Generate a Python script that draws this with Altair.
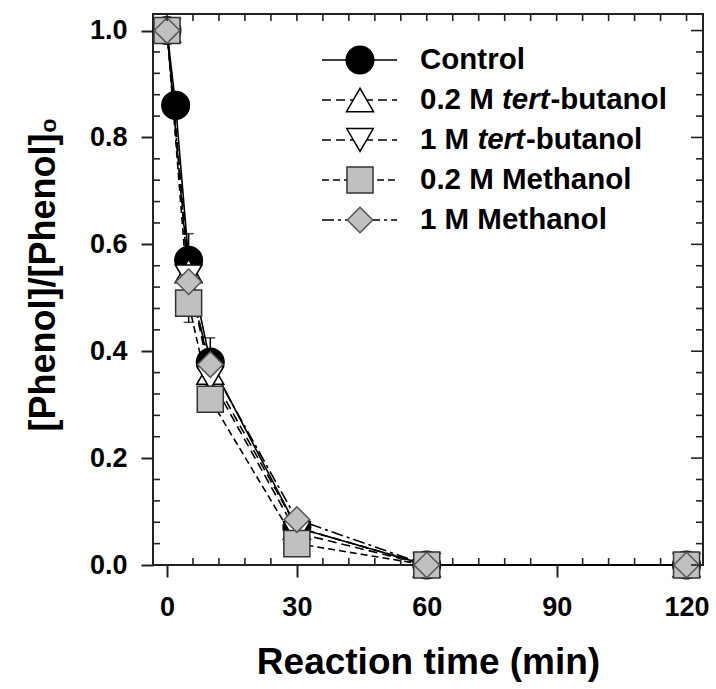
import altair as alt
import pandas as pd

# ---------------- data ----------------
times = [0, 2, 5, 10, 30, 60, 120]
series_names = ["Control", "0.2 M tert-butanol", "1 M tert-butanol",
                "0.2 M Methanol", "1 M Methanol"]
control = [1.00, 0.86, 0.57, 0.38, 0.07, 0.0, 0.0]
tbut_02 = [1.00, None, 0.55, 0.36, 0.07, 0.0, 0.0]
tbut_1 = [1.00, None, 0.54, 0.35, 0.06, 0.0, 0.0]
meoh_02 = [1.00, None, 0.49, 0.31, 0.04, 0.0, 0.0]
meoh_1 = [1.00, None, 0.53, 0.375, 0.085, 0.0, 0.0]
control_err = [0.0, 0.01, 0.05, 0.045, 0.01, 0.0, 0.0]
tbut_02_err = [0.0, None, 0.02, 0.02, 0.01, 0.0, 0.0]
tbut_1_err = [0.0, None, 0.02, 0.02, 0.01, 0.0, 0.0]
meoh_02_err = [0.0, None, 0.036, 0.02, 0.01, 0.0, 0.0]
meoh_1_err = [0.0, None, 0.02, 0.02, 0.01, 0.0, 0.0]

x_major = [0, 30, 60, 90, 120]
y_major = [0.0, 0.2, 0.4, 0.6, 0.8, 1.0]
x_all_ticks = list(range(0, 121, 6))
x_minor = [v for v in x_all_ticks if v not in x_major]
y_minor = [round(i * 0.04, 2) for i in range(0, 26) if i % 5 != 0]

values = [control, tbut_02, tbut_1, meoh_02, meoh_1]
errors = [control_err, tbut_02_err, tbut_1_err, meoh_02_err, meoh_1_err]

rows = []
for k, (name, vals, errs) in enumerate(zip(series_names, values, errors)):
    for t, v, e in zip(times, vals, errs):
        if v is None:
            continue
        rows.append({"t": t, "v": v, "lo": v - e, "hi": v + e,
                     "series": name, "k": k})
df = pd.DataFrame(rows)

legend_df = pd.DataFrame({"series": series_names,
                          "row": list(range(len(series_names))),
                          "pre": ["Control", "0.2 M ", "1 M ",
                                  "0.2 M Methanol", "1 M Methanol"]})

# ---------------- styles ----------------
FONT = "Liberation Sans"
shapes = ["circle", "triangle-up", "triangle-down", "square", "diamond"]
fills = ["#000000", "#ffffff", "#ffffff", "#c0c0c0", "#c0c0c0"]
strokes = ["#000000", "#000000", "#000000", "#333333", "#555555"]
sizes = [760, 650, 650, 600, 1100]
dashes = [[1, 0], [9, 5], [9, 5], [7, 4], [12, 4, 3, 4]]

sdom = series_names
shape_s = alt.Scale(domain=sdom, range=shapes)
fill_s = alt.Scale(domain=sdom, range=fills)
stroke_s = alt.Scale(domain=sdom, range=strokes)
size_s = alt.Scale(domain=sdom, range=sizes)
dash_s = alt.Scale(domain=sdom, range=dashes)

W, H = 550, 551
XDOM = [-3.23, 123.8]
YDOM = [0.0, 1.031]
TICK_COL = "#222"


def xs():
    return alt.Scale(domain=XDOM, nice=False, zero=False)


def ys():
    return alt.Scale(domain=YDOM, nice=False, zero=False)


ax_bottom = alt.Axis(orient="bottom", values=x_major, tickSize=12, tickWidth=2,
                     tickColor=TICK_COL, domain=False, grid=False,
                     labelFont=FONT, labelFontSize=27, labelFontWeight="bold",
                     labelColor="black", labelPadding=17,
                     title="Reaction time (min)", titleFont=FONT,
                     titleFontSize=37, titleFontWeight="bold", titleColor="black",
                     titleBaseline="alphabetic", titleY=108)
ax_left = alt.Axis(orient="left", values=y_major, format=".1f", tickSize=12,
                   tickWidth=2, tickColor=TICK_COL, domain=False, grid=False,
                   labelFont=FONT, labelFontSize=27, labelFontWeight="bold",
                   labelColor="black", labelPadding=14,
                   title="[Phenol]/[Phenol]₀", titleFont=FONT, titleFontSize=36,
                   titleFontWeight="bold", titleColor="black", titleAngle=-90,
                   titleBaseline="middle", titleX=-110, titleY=260)

base = alt.Chart(df)

lines = base.mark_line(color="black", strokeWidth=1.6).encode(
    x=alt.X("t:Q", scale=xs(), axis=ax_bottom),
    y=alt.Y("v:Q", scale=ys(), axis=ax_left),
    detail="series:N",
    strokeDash=alt.StrokeDash("series:N", scale=dash_s, legend=None),
    order="t:Q",
)

err_rules = base.mark_rule(color="black", strokeWidth=1.5).encode(
    x=alt.X("t:Q", scale=xs(), axis=None),
    y=alt.Y("lo:Q", scale=ys(), axis=None),
    y2="hi:Q",
)
err_caps_hi = base.mark_tick(orient="horizontal", size=10, thickness=1.5,
                             color="black").encode(
    x=alt.X("t:Q", scale=xs(), axis=None),
    y=alt.Y("hi:Q", scale=ys(), axis=None),
)
err_caps_lo = base.mark_tick(orient="horizontal", size=10, thickness=1.5,
                             color="black").encode(
    x=alt.X("t:Q", scale=xs(), axis=None),
    y=alt.Y("lo:Q", scale=ys(), axis=None),
)

points = base.mark_point(filled=True, opacity=1, fillOpacity=1,
                         strokeWidth=1.5).encode(
    x=alt.X("t:Q", scale=xs(), axis=None),
    y=alt.Y("v:Q", scale=ys(), axis=None),
    shape=alt.Shape("series:N", scale=shape_s, legend=None),
    fill=alt.Fill("series:N", scale=fill_s, legend=None),
    stroke=alt.Stroke("series:N", scale=stroke_s, legend=None),
    size=alt.Size("series:N", scale=size_s, legend=None),
    order="k:Q",
)

# ---------------- inner (minor / mirrored) ticks ----------------
xt_minor_df = pd.DataFrame({"v": x_minor})
xt_all_df = pd.DataFrame({"v": x_all_ticks})
yt_minor_df = pd.DataFrame({"v": y_minor})
yt_major_df = pd.DataFrame({"v": y_major})


def vtick(data, y0, y1):
    return alt.Chart(data).mark_rule(color=TICK_COL, strokeWidth=1.6).encode(
        x=alt.X("v:Q", scale=xs(), axis=None),
        y=alt.value(y0), y2=alt.value(y1))


def htick(data, x0, x1):
    return alt.Chart(data).mark_rule(color=TICK_COL, strokeWidth=1.6).encode(
        y=alt.Y("v:Q", scale=ys(), axis=None),
        x=alt.value(x0), x2=alt.value(x1))


MINOR = 7
tick_layers = [
    vtick(xt_minor_df, H - MINOR, H),   # bottom minor, inside
    vtick(xt_all_df, 0, MINOR),         # top, inside
    htick(yt_minor_df, 0, MINOR),       # left minor, inside
    htick(yt_minor_df, W - MINOR, W),   # right minor, inside
    htick(yt_major_df, W - 12, W),      # right major, inside
]

# ---------------- legend (drawn inside the plot) ----------------
LEG_Y = alt.Scale(domain=[0, 4], range=[46, 206])
LX0, LX1, LXM, LXT = 169, 244, 207, 267
LFS = 29.5
lbase = alt.Chart(legend_df)
leg_lines = lbase.mark_rule(color="black", strokeWidth=1.6).encode(
    x=alt.value(LX0), x2=alt.value(LX1),
    y=alt.Y("row:Q", scale=LEG_Y, axis=None),
    strokeDash=alt.StrokeDash("series:N", scale=dash_s, legend=None),
)
leg_pts = lbase.mark_point(filled=True, opacity=1, fillOpacity=1,
                           strokeWidth=1.5).encode(
    x=alt.value(LXM),
    y=alt.Y("row:Q", scale=LEG_Y, axis=None),
    shape=alt.Shape("series:N", scale=shape_s, legend=None),
    fill=alt.Fill("series:N", scale=fill_s, legend=None),
    stroke=alt.Stroke("series:N", scale=stroke_s, legend=None),
    size=alt.Size("series:N", scale=size_s, legend=None),
)
leg_txt = lbase.mark_text(align="left", baseline="middle", font=FONT,
                          fontSize=LFS, fontWeight="bold",
                          color="black").encode(
    x=alt.value(LXT),
    y=alt.Y("row:Q", scale=LEG_Y, axis=None),
    text="pre:N",
)

# italic "tert" parts, placed after the prefix using Arial-bold metrics
em_pre = {1: 2.779, 2: 1.945}
em_tert = 1.611
ital_layers = []
for r, em in em_pre.items():
    xi = LXT + em * LFS
    xp = xi + em_tert * LFS + 1
    ital_layers.append(
        lbase.transform_filter(alt.datum.row == r).mark_text(
            align="left", baseline="middle", font=FONT, fontSize=LFS,
            fontWeight="bold", fontStyle="italic", color="black").encode(
            x=alt.value(xi), y=alt.Y("row:Q", scale=LEG_Y, axis=None),
            text=alt.value("tert")))
    ital_layers.append(
        lbase.transform_filter(alt.datum.row == r).mark_text(
            align="left", baseline="middle", font=FONT, fontSize=LFS,
            fontWeight="bold", color="black").encode(
            x=alt.value(xp), y=alt.Y("row:Q", scale=LEG_Y, axis=None),
            text=alt.value("-butanol")))

chart = alt.layer(
    lines, err_rules, err_caps_hi, err_caps_lo, points, *tick_layers,
    leg_lines, leg_pts, leg_txt, *ital_layers
).resolve_scale(
    y="independent"
).resolve_axis(
    x="independent", y="independent"
).properties(
    width=W, height=H,
    padding={"left": 153, "top": 14, "right": 13, "bottom": 124},
    autosize=alt.AutoSizeParams(type="none"),
    background="white",
).configure_view(
    stroke="#222", strokeWidth=2
)

chart.save("out.html", embed_options={"renderer": "svg", "actions": False})
